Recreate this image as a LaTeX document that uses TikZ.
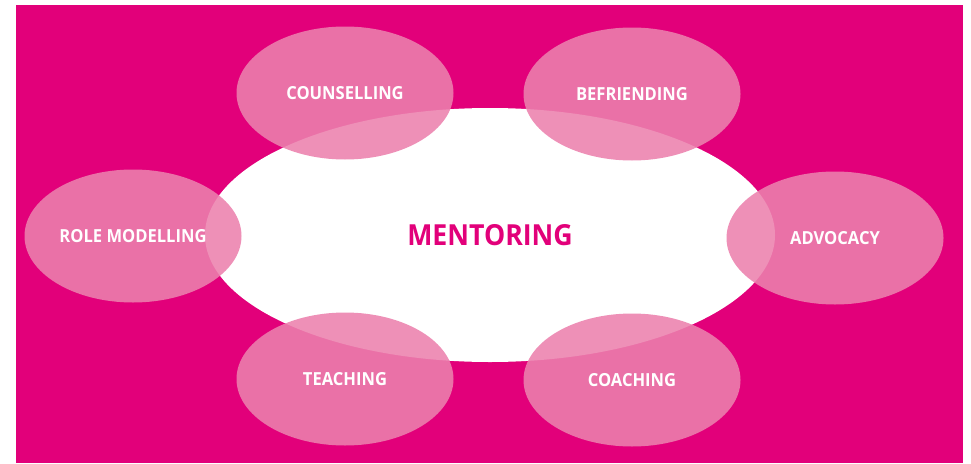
\documentclass[tikz,border=0pt]{standalone}
\usepackage{fontspec}
\setmainfont{Open Sans}
\newfontfamily\narrowsans[FakeStretch=0.92]{Open Sans}
\usetikzlibrary{shapes.geometric, positioning}
\definecolor{mentorPink}{HTML}{E2007A}
\definecolor{petalPink}{RGB}{236,129,174}

\begin{document}
\begin{tikzpicture}[
    x=1pt, y=-1pt,
    hub/.style={ellipse, fill=white, inner sep=0pt, minimum width=570pt, minimum height=254pt, text=mentorPink, font=\narrowsans\bfseries\fontsize{29}{29}\selectfont},
    petal/.style={ellipse, fill=petalPink, fill opacity=0.88, text opacity=1, inner sep=0pt, minimum width=217pt, minimum height=133pt, text=white, font=\narrowsans\bfseries\fontsize{18}{18}\selectfont},
]
    \useasboundingbox[fill=white] (0,0) rectangle (971,463);
    \fill[mentorPink] (16,5) rectangle (963,463);

    \node[hub] (mentoring) at (490,235) {MENTORING};

    \node[petal] (counselling) at (345,93) {COUNSELLING};
    \node[petal] (befriending) at (632,94) {BEFRIENDING};
    \node[petal] (rolemodel) at (133,236) {ROLE MODELLING};
    \node[petal] (advocacy) at (835,238) {ADVOCACY};
    \node[petal] (teaching) at (345,379) {TEACHING};
    \node[petal] (coaching) at (632,380) {COACHING};
\end{tikzpicture}
\end{document}
